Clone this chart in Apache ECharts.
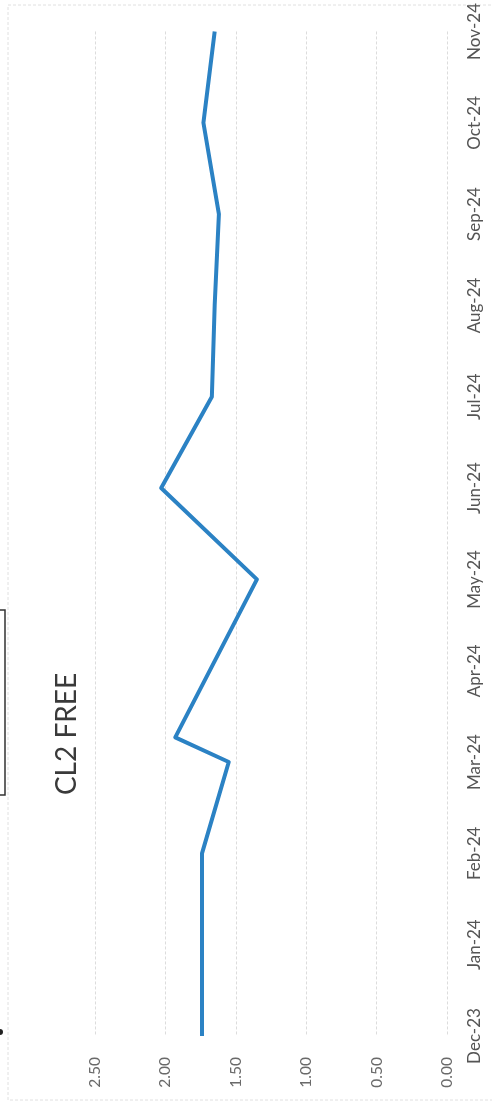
<!DOCTYPE html>
<html>
<head>
<meta charset="utf-8">
<script src="https://cdn.jsdelivr.net/npm/echarts@6/dist/echarts.min.js"></script>
<style>
html,body{margin:0;padding:0;background:#fff;}
#c{width:492px;height:1110px;}
</style>
</head>
<body>
<div id="c"></div>
<script>
// Month tick labels (axis positions 0..11)
const months = ['Dec-23','Jan-24','Feb-24','Mar-24','Apr-24','May-24','Jun-24','Jul-24','Aug-24','Sep-24','Oct-24','Nov-24'];
// Measurement positions along the month axis (index of month, fractional for mid-month readings)
const positions = [0, 1, 2, 3, 3.27, 5, 6, 7, 8, 9, 10, 11];
// CL2 FREE readings
const values = [1.74, 1.74, 1.74, 1.55, 1.93, 1.35, 2.03, 1.67, 1.65, 1.62, 1.73, 1.65];
const valueTicks = ['0.00','0.50','1.00','1.50','2.00','2.50'];

const chart = echarts.init(document.getElementById('c'));
const data = positions.map((p, i) => [values[i], p]);

chart.setOption({
  animation: false,
  backgroundColor: '#fff',
  grid: { left: 95, right: 45, top: 30, bottom: 74 },
  xAxis: {
    type: 'value', inverse: true, min: 0, max: 2.5, interval: 0.5,
    position: 'bottom',
    axisLine: { show: false }, axisTick: { show: false },
    splitLine: { show: true, lineStyle: { color: '#dcdcdc', width: 1, type: [3, 2] } },
    axisLabel: {
      rotate: 90, margin: 21, color: '#6a6a6a', fontSize: 15.5, fontFamily: 'Lato',
      formatter: v => valueTicks[Math.round(v / 0.5)] || v.toFixed(2)
    }
  },
  yAxis: {
    type: 'value', min: 0, max: 11, interval: 1, position: 'right',
    axisLine: { show: false }, axisTick: { show: false },
    splitLine: { show: false },
    axisLabel: {
      rotate: 90, margin: 19, color: '#555', fontSize: 17, fontFamily: 'Lato',
      formatter: v => months[Math.round(v)] || ''
    }
  },
  series: [{
    type: 'line', data: data, symbol: 'none',
    lineStyle: { color: '#2b82c4', width: 4, join: 'round' }
  }],
  graphic: [
    { type: 'rect', shape: { x: 8, y: 5, width: 500, height: 1095 }, style: { fill: 'none', stroke: '#e0e0e0', lineWidth: 1, lineDash: [3, 2] }, silent: true },
    { type: 'text', x: 67, y: 734, rotation: Math.PI / 2,
      style: { text: 'CL2 FREE', fontSize: 28, fontFamily: 'Lato', fill: '#3a3a3a', textAlign: 'center', textVerticalAlign: 'middle' } },
    { type: 'polyline', shape: { points: [[0, 610], [5, 610], [5, 795], [0, 795]] }, style: { fill: 'none', stroke: '#333', lineWidth: 1.5 } },
    { type: 'circle', shape: { cx: 0, cy: 1032, r: 3 }, style: { fill: '#222' } }
  ]
});
</script>
</body>
</html>
